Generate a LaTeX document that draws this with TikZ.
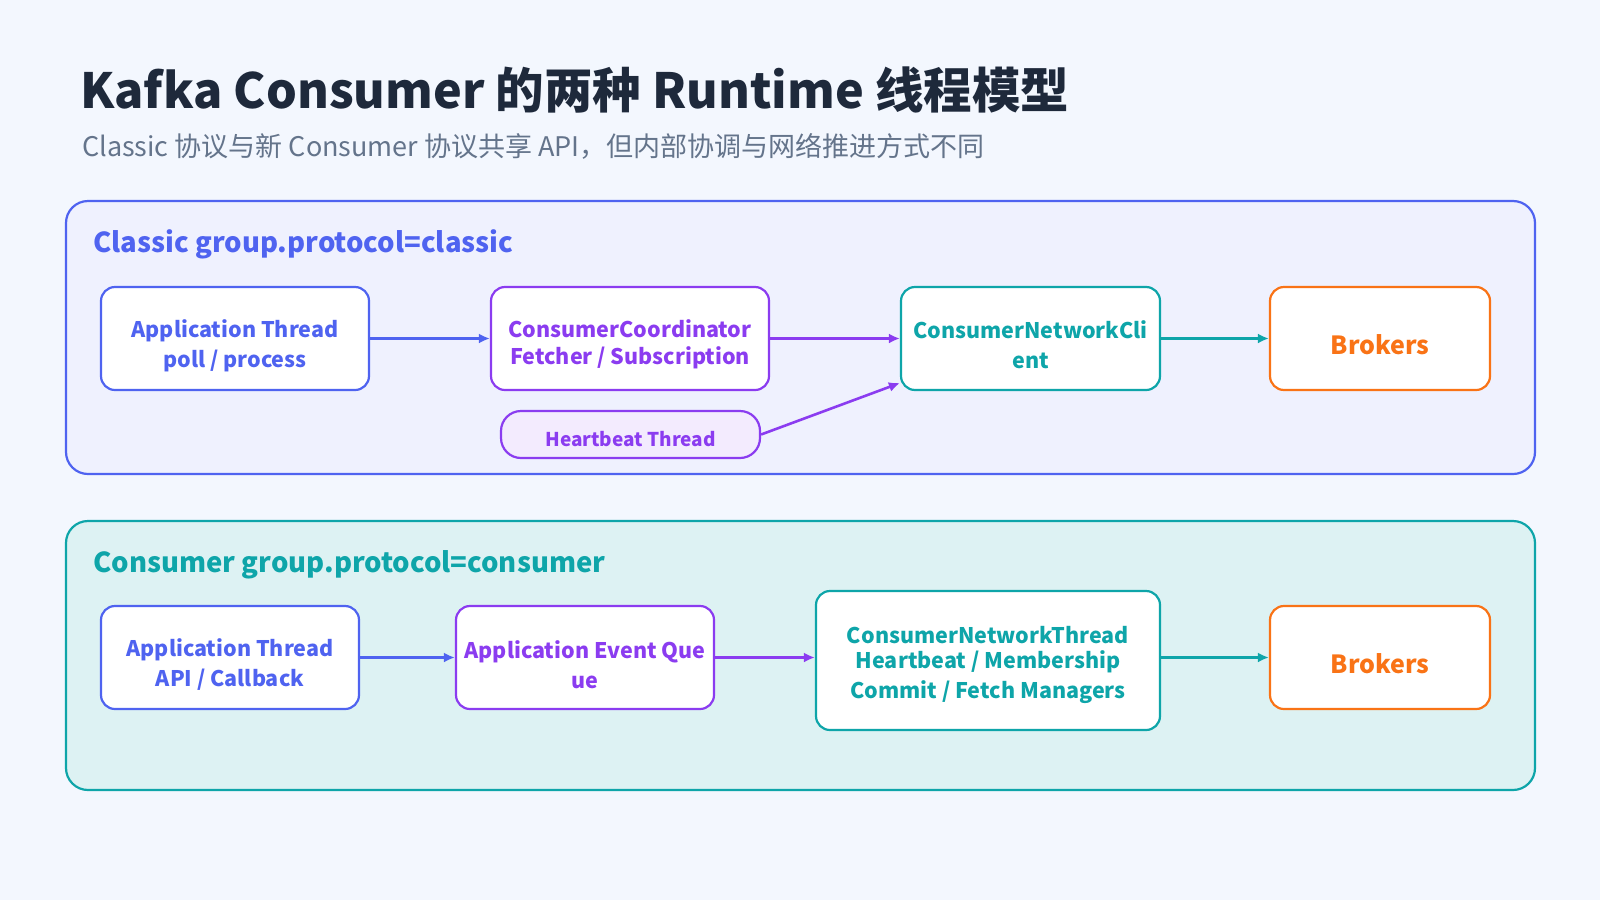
\documentclass[tikz,border=0pt]{standalone}
\usepackage{fontspec}
\setmainfont{Noto Sans CJK SC}
\usetikzlibrary{arrows.meta}
\definecolor{bg}{HTML}{F3F7FE}
\definecolor{cblue}{HTML}{4F63F0}
\definecolor{cpurple}{HTML}{8B3CF0}
\definecolor{cteal}{HTML}{0EA5A9}
\definecolor{corange}{HTML}{F97316}
\definecolor{ctitle}{HTML}{1E293B}
\definecolor{csub}{HTML}{64748B}
\newcommand\lowtxt[2][-8pt]{\raisebox{#1}[\height][\depth]{\begin{tabular}{@{}c@{}}#2\end{tabular}}}
\tikzset{
 panel/.style={rounded corners=22pt, line width=2.2pt},
 bx/.style={rounded corners=14pt, line width=2.2pt, fill=white, align=center, font=\fontsize{21.5}{30}\selectfont\bfseries, inner sep=0pt},
 arr/.style={line width=3.5pt, -{Latex[length=11pt,width=10pt]}},
}
\begin{document}
\begin{tikzpicture}[x=1pt,y=-1pt]
\fill[bg] (0,0) rectangle (1600,900);
\useasboundingbox (0,0) rectangle (1600,900);
\node[anchor=base west, text=ctitle, font=\fontsize{48.5}{56}\selectfont\bfseries, inner sep=0pt] (title) at (80,108) {Kafka Consumer 的两种 Runtime 线程模型};
\node[anchor=base west, text=csub, font=\fontsize{27}{30}\selectfont, inner sep=0pt] (sub) at (82,156) {Classic 协议与新 Consumer 协议共享 API，但内部协调与网络推进方式不同};
% panel 1
\draw[panel, draw=cblue, fill=cblue!9] (66,201) rectangle (1535,474);
\node[anchor=base west, text=cblue, font=\fontsize{27.5}{34}\selectfont\bfseries, inner sep=0pt] (p1) at (93,252) {Classic group.protocol=classic};
\node[bx, draw=cblue, text=cblue, minimum width=268pt, minimum height=103pt] (a1) at (235,338.5) {\lowtxt{Application Thread\\poll / process}};
\node[bx, draw=cpurple, text=cpurple, minimum width=278pt, minimum height=103pt] (c1) at (630,338.5) {\lowtxt[-6pt]{ConsumerCoordinator\\[-3pt]Fetcher / Subscription}};
\node[bx, draw=cteal, text=cteal, minimum width=259pt, minimum height=103pt] (n1) at (1030.5,338.5) {\lowtxt[-9pt]{ConsumerNetworkCli\\ent}};
\node[bx, draw=corange, text=corange, minimum width=220pt, minimum height=103pt, font=\fontsize{25}{30}\selectfont\bfseries] (b1) at (1380,338.5) {\lowtxt[-10pt]{Brokers}};
\node[bx, draw=cpurple, fill=cpurple!10, text=cpurple, minimum width=259pt, minimum height=47pt, rounded corners=20pt, font=\fontsize{19}{24}\selectfont\bfseries] (h1) at (630.5,434.5) {\lowtxt[-7pt]{Heartbeat Thread}};
\draw[arr, color=cblue] (a1) -- (c1);
\draw[arr, color=cpurple] (c1) -- (n1);
\draw[arr, color=cteal] (n1) -- (b1);
\draw[arr, color=cpurple, line width=2.6pt] (h1.east) -- (n1.south west |- 0,383);
% panel 2
\draw[panel, draw=cteal, fill=cteal!14] (66,521) rectangle (1535,790);
\node[anchor=base west, text=cteal, font=\fontsize{27.5}{34}\selectfont\bfseries, inner sep=0pt] (p2) at (93,572) {Consumer group.protocol=consumer};
\node[bx, draw=cblue, text=cblue, minimum width=258pt, minimum height=103pt] (a2) at (230,657.5) {\lowtxt{Application Thread\\API / Callback}};
\node[bx, draw=cpurple, text=cpurple, minimum width=258pt, minimum height=103pt] (q2) at (585,657.5) {\lowtxt[-10pt]{Application Event Que\\ue}};
\node[bx, draw=cteal, text=cteal, minimum width=344pt, minimum height=139pt] (n2) at (988,660.5) {\lowtxt[-4pt]{ConsumerNetworkThread\\[-5pt]Heartbeat / Membership\\Commit / Fetch Managers}};
\node[bx, draw=corange, text=corange, minimum width=220pt, minimum height=103pt, font=\fontsize{25}{30}\selectfont\bfseries] (b2) at (1380,657.5) {\lowtxt[-10pt]{Brokers}};
\draw[arr, color=cblue] (a2) -- (q2);
\draw[arr, color=cpurple] (q2) -- (q2 -| n2.west);
\draw[arr, color=cteal] (n2.east |- b2) -- (b2);
\end{tikzpicture}
\end{document}
